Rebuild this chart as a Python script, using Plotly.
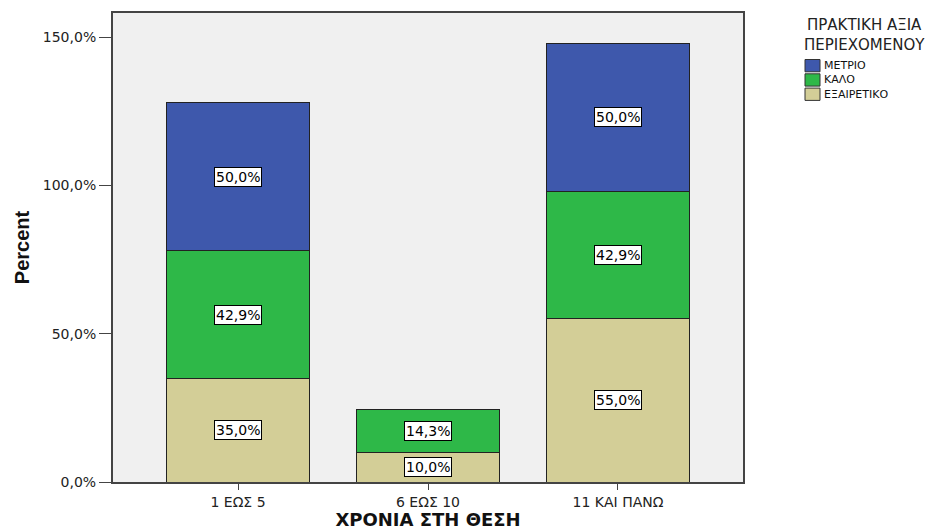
import plotly.graph_objects as go

categories = ["1 ΕΩΣ 5", "6 ΕΩΣ 10", "11 ΚΑΙ ΠΑΝΩ"]
series_names = ["ΕΞΑΙΡΕΤΙΚΟ", "ΚΑΛΟ", "ΜΕΤΡΙΟ"]
exairetiko = [35.0, 10.0, 55.0]
kalo = [42.9, 14.3, 42.9]
metrio = [50.0, None, 50.0]
colors = ["#D3CE97", "#2EB848", "#3E58AC"]
y_tickvals = [0, 50, 100, 150]
y_ticktext = ["0,0%", "50,0%", "100,0%", "150,0%"]
legend_title = ["ΠΡΑΚΤΙΚΗ ΑΞΙΑ", "ΠΕΡΙΕΧΟΜΕΝΟΥ"]

FONT = "DejaVu Sans, Liberation Sans, sans-serif"

# page body has an 8px margin; target plot area: x 113-743, y 13-482 (window px)
W, H = 940, 522
ML, MR, MT, MB = 105, 205, 5, 48
PW, PH = W - ML - MR, H - MT - MB


def px_x(x):  # window px -> paper x
    return (x - 8 - ML) / PW


def px_y(y):  # window px -> paper y
    return (H - MB - (y - 8)) / PH


fig = go.Figure()
all_series = [exairetiko, kalo, metrio]
for name, vals, col in zip(series_names, all_series, colors):
    fig.add_trace(go.Bar(
        x=categories, y=vals, name=name,
        marker=dict(color=col, line=dict(color="#222222", width=1)),
        width=0.75, showlegend=False,
    ))

# value labels
base = [0.0] * len(categories)
for vals in all_series:
    for i, v in enumerate(vals):
        if v is None:
            continue
        fig.add_annotation(
            x=categories[i], y=base[i] + v / 2,
            text=f"{v:.1f}%".replace(".", ","),
            showarrow=False,
            bgcolor="white", bordercolor="black", borderwidth=1, borderpad=1,
            font=dict(family=FONT, size=14, color="black"),
        )
        base[i] += v

fig.update_layout(
    barmode="stack",
    width=W, height=H,
    margin=dict(l=ML, r=MR, t=MT, b=MB, autoexpand=False),
    paper_bgcolor="white",
    plot_bgcolor="#F0F0F0",
    font=dict(family=FONT, size=13, color="#222222"),
    showlegend=False,
)

# legend title
fig.add_annotation(
    xref="paper", yref="paper", x=px_x(864), y=px_y(35),
    xanchor="center", yanchor="middle", text="<br>".join(legend_title),
    showarrow=False, align="center",
    font=dict(family=FONT, size=15, color="#222222"),
)

# legend entries (top to bottom: ΜΕΤΡΙΟ, ΚΑΛΟ, ΕΞΑΙΡΕΤΙΚΟ)
LEG_SIZE = 11
step = LEG_SIZE * 1.3
order = [2, 1, 0]
top = 59.5
for k, idx in enumerate(order):
    y0 = top + step * k
    fig.add_shape(
        type="rect", xref="paper", yref="paper",
        x0=px_x(805), x1=px_x(820), y0=px_y(y0 + step - 2), y1=px_y(y0),
        fillcolor=colors[idx], line=dict(color="#333333", width=1),
    )
fig.add_annotation(
    xref="paper", yref="paper", x=px_x(822), y=px_y(top + step * 1.5 - 1),
    xanchor="left", yanchor="middle",
    text="<br>".join(series_names[idx] for idx in order),
    showarrow=False, align="left",
    font=dict(family=FONT, size=LEG_SIZE, color="#111111"),
)

fig.update_xaxes(
    range=[-0.658, 2.658],
    showline=True, linecolor="#444444", linewidth=2, mirror=True,
    ticks="outside", ticklen=6, tickcolor="#444444", tickwidth=1,
    tickfont=dict(family=FONT, size=14, color="#222222"),
    title=dict(text="<b>ΧΡΟΝΙΑ ΣΤΗ ΘΕΣΗ</b>", font=dict(family=FONT, size=18, color="#111111"), standoff=3),
    showgrid=False,
)
fig.update_yaxes(
    range=[0, 158.1],
    tickvals=y_tickvals, ticktext=y_ticktext,
    showline=True, linecolor="#444444", linewidth=2, mirror=True,
    ticks="outside", ticklen=12, tickcolor="#444444", tickwidth=1,
    tickfont=dict(family=FONT, size=14, color="#222222"),
    title=dict(text="<b>Percent</b>", font=dict(family="Liberation Sans Narrow, Liberation Sans, sans-serif", size=20, color="#111111"), standoff=8),
    showgrid=False, zeroline=False,
)

fig.write_html("out.html")
